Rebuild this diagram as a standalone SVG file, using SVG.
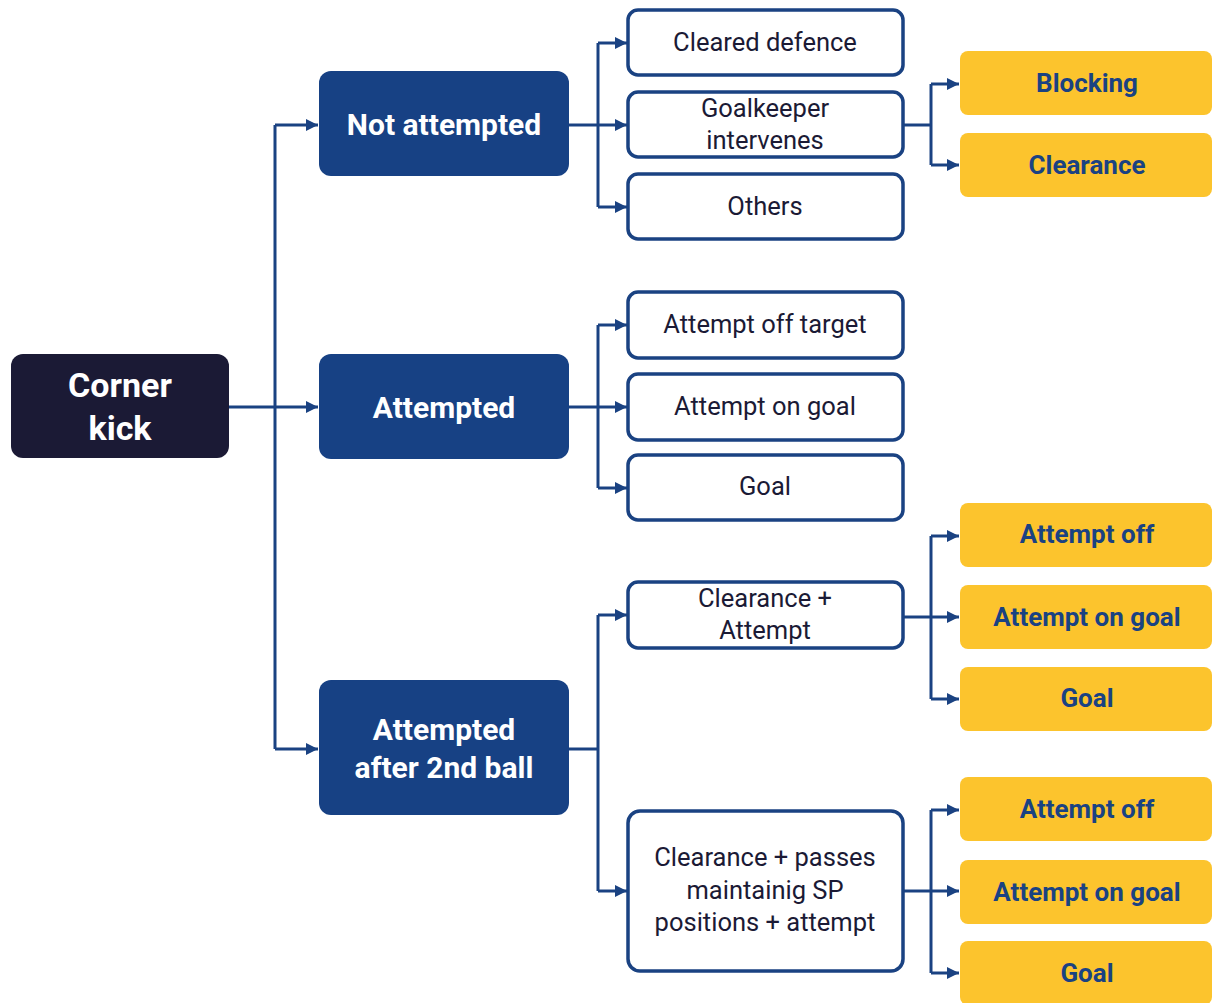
<svg xmlns="http://www.w3.org/2000/svg" width="1213" height="1003" viewBox="0 0 1213 1003">
  <defs>
    <marker id="arrow" viewBox="0 0 10 10" refX="10" refY="5" markerWidth="12" markerHeight="13" markerUnits="userSpaceOnUse" orient="auto">
      <path d="M0,0 L10,5 L0,10 Z" fill="#1a4282"/>
    </marker>
    <style>
      .root { fill: #1b1a35; }
      .blue { fill: #174184; }
      .white { fill: #ffffff; stroke: #1a4282; stroke-width: 3.5; }
      .yellow { fill: #fcc42d; }
      .t-root { font-family: Roboto, "Liberation Sans", sans-serif; font-weight: 700; font-size: 34px; fill: #ffffff; text-anchor: middle; dominant-baseline: central; }
      .t-blue { font-family: Roboto, "Liberation Sans", sans-serif; font-weight: 700; font-size: 30px; fill: #ffffff; text-anchor: middle; dominant-baseline: central; }
      .t-white { font-family: Roboto, "Liberation Sans", sans-serif; font-weight: 400; font-size: 25.5px; fill: #1b1a35; text-anchor: middle; dominant-baseline: central; }
      .t-yellow { font-family: Roboto, "Liberation Sans", sans-serif; font-weight: 700; font-size: 26px; fill: #1a4282; text-anchor: middle; dominant-baseline: central; }
      .conn { fill: none; stroke: #1a4282; stroke-width: 3; }
    </style>
  </defs>

  <!-- connectors -->
  <g id="connectors" class="conn">
    <!-- corner kick to outcome categories -->
    <path d="M229,407 H275"/>
    <path d="M275,125 V749"/>
    <path d="M275,125 H318" marker-end="url(#arrow)"/>
    <path d="M275,407 H318" marker-end="url(#arrow)"/>
    <path d="M275,749 H318" marker-end="url(#arrow)"/>

    <!-- not attempted -->
    <path d="M569,125 H598"/>
    <path d="M598,43 V207"/>
    <path d="M598,43 H627" marker-end="url(#arrow)"/>
    <path d="M598,125 H627" marker-end="url(#arrow)"/>
    <path d="M598,207 H627" marker-end="url(#arrow)"/>

    <!-- attempted -->
    <path d="M569,407 H598"/>
    <path d="M598,325 V488"/>
    <path d="M598,325 H627" marker-end="url(#arrow)"/>
    <path d="M598,407 H627" marker-end="url(#arrow)"/>
    <path d="M598,488 H627" marker-end="url(#arrow)"/>

    <!-- attempted after 2nd ball -->
    <path d="M569,749 H598"/>
    <path d="M598,615 V891"/>
    <path d="M598,615 H627" marker-end="url(#arrow)"/>
    <path d="M598,891 H627" marker-end="url(#arrow)"/>

    <!-- goalkeeper intervenes -->
    <path d="M903,125 H931"/>
    <path d="M931,84 V165"/>
    <path d="M931,84 H959" marker-end="url(#arrow)"/>
    <path d="M931,165 H959" marker-end="url(#arrow)"/>

    <!-- clearance + attempt -->
    <path d="M903,617 H931"/>
    <path d="M931,536 V699"/>
    <path d="M931,536 H959" marker-end="url(#arrow)"/>
    <path d="M931,617 H959" marker-end="url(#arrow)"/>
    <path d="M931,699 H959" marker-end="url(#arrow)"/>

    <!-- clearance + passes -->
    <path d="M903,891 H931"/>
    <path d="M931,810 V973"/>
    <path d="M931,810 H959" marker-end="url(#arrow)"/>
    <path d="M931,891 H959" marker-end="url(#arrow)"/>
    <path d="M931,973 H959" marker-end="url(#arrow)"/>
  </g>

  <!-- root -->
  <g id="corner-kick">
    <rect class="root" x="11" y="354" width="218" height="104" rx="12"/>
    <text class="t-root" x="120" y="385">Corner</text>
    <text class="t-root" x="120" y="428">kick</text>
  </g>

  <!-- outcome categories -->
  <g id="not-attempted">
    <rect class="blue" x="319" y="71" width="250" height="105" rx="12"/>
    <text class="t-blue" x="444" y="124">Not attempted</text>
  </g>
  <g id="attempted">
    <rect class="blue" x="319" y="354" width="250" height="105" rx="12"/>
    <text class="t-blue" x="444" y="407">Attempted</text>
  </g>
  <g id="attempted-2nd-ball">
    <rect class="blue" x="319" y="680" width="250" height="135" rx="12"/>
    <text class="t-blue" x="444" y="729">Attempted</text>
    <text class="t-blue" x="444" y="767">after 2nd ball</text>
  </g>

  <!-- second level -->
  <g id="cleared-defence">
    <rect class="white" x="628" y="10" width="275" height="65" rx="10"/>
    <text class="t-white" x="765" y="42">Cleared defence</text>
  </g>
  <g id="goalkeeper-intervenes">
    <rect class="white" x="628" y="92" width="275" height="65" rx="10"/>
    <text class="t-white" x="765" y="108">Goalkeeper</text>
    <text class="t-white" x="765" y="140">intervenes</text>
  </g>
  <g id="others">
    <rect class="white" x="628" y="174" width="275" height="65" rx="10"/>
    <text class="t-white" x="765" y="206">Others</text>
  </g>
  <g id="attempt-off-target">
    <rect class="white" x="628" y="292" width="275" height="66" rx="10"/>
    <text class="t-white" x="765" y="324">Attempt off target</text>
  </g>
  <g id="attempt-on-goal">
    <rect class="white" x="628" y="374" width="275" height="66" rx="10"/>
    <text class="t-white" x="765" y="406">Attempt on goal</text>
  </g>
  <g id="goal">
    <rect class="white" x="628" y="455" width="275" height="65" rx="10"/>
    <text class="t-white" x="765" y="486">Goal</text>
  </g>
  <g id="clearance-attempt">
    <rect class="white" x="628" y="582" width="275" height="66" rx="10"/>
    <text class="t-white" x="765" y="598">Clearance +</text>
    <text class="t-white" x="765" y="630">Attempt</text>
  </g>
  <g id="clearance-passes">
    <rect class="white" x="628" y="811" width="275" height="160" rx="12"/>
    <text class="t-white" x="765" y="857">Clearance + passes</text>
    <text class="t-white" x="765" y="890">maintainig SP</text>
    <text class="t-white" x="765" y="922">positions + attempt</text>
  </g>

  <!-- third level -->
  <g id="blocking">
    <rect class="yellow" x="960" y="51" width="252" height="64" rx="8"/>
    <text class="t-yellow" x="1087" y="83">Blocking</text>
  </g>
  <g id="clearance">
    <rect class="yellow" x="960" y="133" width="252" height="64" rx="8"/>
    <text class="t-yellow" x="1087" y="165">Clearance</text>
  </g>
  <g id="ca-attempt-off">
    <rect class="yellow" x="960" y="503" width="252" height="64" rx="8"/>
    <text class="t-yellow" x="1087" y="534">Attempt off</text>
  </g>
  <g id="ca-attempt-on-goal">
    <rect class="yellow" x="960" y="585" width="252" height="64" rx="8"/>
    <text class="t-yellow" x="1087" y="617">Attempt on goal</text>
  </g>
  <g id="ca-goal">
    <rect class="yellow" x="960" y="667" width="252" height="64" rx="8"/>
    <text class="t-yellow" x="1087" y="698">Goal</text>
  </g>
  <g id="cp-attempt-off">
    <rect class="yellow" x="960" y="777" width="252" height="64" rx="8"/>
    <text class="t-yellow" x="1087" y="809">Attempt off</text>
  </g>
  <g id="cp-attempt-on-goal">
    <rect class="yellow" x="960" y="860" width="252" height="64" rx="8"/>
    <text class="t-yellow" x="1087" y="892">Attempt on goal</text>
  </g>
  <g id="cp-goal">
    <rect class="yellow" x="960" y="941" width="252" height="64" rx="8"/>
    <text class="t-yellow" x="1087" y="973">Goal</text>
  </g>
</svg>
